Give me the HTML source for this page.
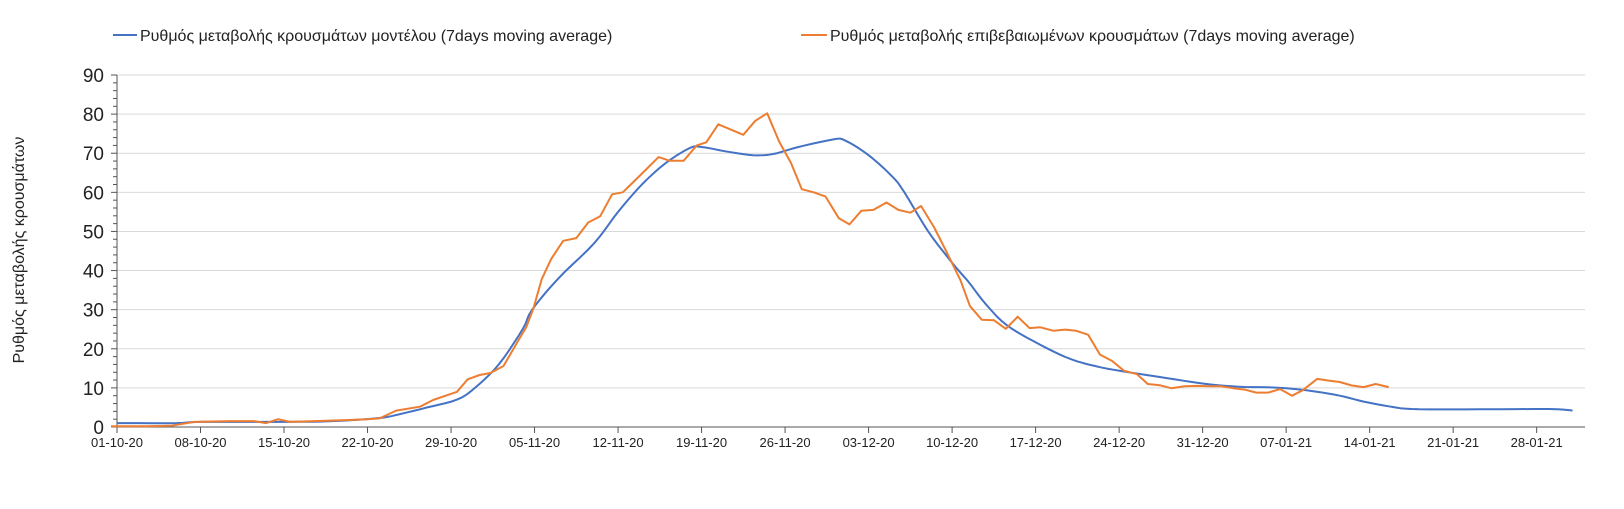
<!DOCTYPE html>
<html><head><meta charset="utf-8"><style>
body{margin:0;background:#fff;}
svg{display:block;font-family:"Liberation Sans","DejaVu Sans",sans-serif;}
</style></head><body>
<svg id="s" width="1624" height="509" xmlns="http://www.w3.org/2000/svg">
<rect width="1624" height="509" fill="#fff"/>
<g id="grid"></g>
<line x1="117" y1="75" x2="117" y2="427" stroke="#555" stroke-width="1"/>
<line x1="117" y1="427" x2="1585" y2="427" stroke="#555" stroke-width="1"/>
<g id="ticks" stroke="#555" stroke-width="1"></g>
<g id="labels" fill="#222"></g>
<text transform="translate(24,250) rotate(-90)" text-anchor="middle" font-size="16" fill="#222">Ρυθμός μεταβολής κρουσμάτων</text>
<line x1="113" y1="35" x2="137" y2="35" stroke="#4472c4" stroke-width="2"/>
<text x="140" y="41" font-size="16" fill="#222">Ρυθμός μεταβολής κρουσμάτων μοντέλου (7days moving average)</text>
<line x1="801" y1="35" x2="827" y2="35" stroke="#ed7d31" stroke-width="2"/>
<text x="830" y="41" font-size="16" fill="#222">Ρυθμός μεταβολής επιβεβαιωμένων κρουσμάτων (7days moving average)</text>
<path id="blue" fill="none" stroke="#4472c4" stroke-width="2" stroke-linejoin="round"/>
<path id="orange" fill="none" stroke="#ed7d31" stroke-width="2" stroke-linejoin="round"/>
</svg>
<script>
const X=d=>117+11.93*d, Y=v=>427-v*3.911;
const ns="http://www.w3.org/2000/svg";
function el(p,t,a,txt){const e=document.createElementNS(ns,t);for(const k in a)e.setAttribute(k,a[k]);if(txt!=null)e.textContent=txt;document.getElementById(p).appendChild(e);}
for(let v=10;v<=90;v+=10)el("grid","line",{x1:117,x2:1585,y1:Y(v),y2:Y(v),stroke:"#d9d9d9","stroke-width":1});
for(let v=0;v<=90;v+=2){const maj=v%10==0;el("ticks","line",{x1:maj?111:113,x2:117,y1:Y(v),y2:Y(v)});}
for(let v=0;v<=90;v+=10)el("labels","text",{x:104,y:Y(v)+7,"text-anchor":"end","font-size":19},v);
const lab=["01-10-20","08-10-20","15-10-20","22-10-20","29-10-20","05-11-20","12-11-20","19-11-20","26-11-20","03-12-20","10-12-20","17-12-20","24-12-20","31-12-20","07-01-21","14-01-21","21-01-21","28-01-21"];
lab.forEach((l,i)=>{const x=X(i*7);el("ticks","line",{x1:x,x2:x,y1:427,y2:433});el("labels","text",{x:x,y:447,"text-anchor":"middle","font-size":13},l);});
const B=[[0,1],[5,1],[7,1.3],[14,1.3],[18,1.5],[22,2.3],[24,3.5],[26,5],[28.5,7],[30,10],[32,16],[34,25],[34.8,30],[37,38],[40,47],[42,55],[44,62],[46,67.5],[48,71.3],[49,71.6],[51,70.5],[53.3,69.5],[55,69.8],[57,71.5],[60,73.5],[61,73.3],[63,69.5],[65,64],[66,60],[68,50],[70,42],[71.4,37],[72.8,31.5],[74.6,26],[77.4,21],[80,17.3],[82.4,15.3],[84.4,14.2],[88,12.5],[91.3,11],[94,10.3],[96.9,10.1],[99.7,9.4],[102.5,8],[104.5,6.5],[106.6,5.3],[108.5,4.6],[113,4.5],[120,4.6],[122,4.2]];
function interp(pts){const o=[];for(let i=0;i<pts.length-1;i++){const[p0,p1,p2,p3]=[pts[Math.max(0,i-1)],pts[i],pts[i+1],pts[Math.min(pts.length-1,i+2)]];for(let t=0;t<1;t+=0.2){const t2=t*t,t3=t2*t;const f=(a,b,c,d)=>0.5*(2*b+(-a+c)*t+(2*a-5*b+4*c-d)*t2+(-a+3*b-3*c+d)*t3);o.push([f(p0[0],p1[0],p2[0],p3[0]),f(p0[1],p1[1],p2[1],p3[1])]);}}o.push(pts[pts.length-1]);return o;}
document.getElementById("blue").setAttribute("d",interp(B).map((p,i)=>(i?"L":"M")+X(p[0]).toFixed(1)+","+Y(p[1]).toFixed(1)).join(""));
const early=[[0,0.2],[3,0.2],[5,0.3],[7,1.3],[10,1.5],[12,1.5],[13,1],[14,2],[15,1.3],[18,1.6],[20,1.8]].map(p=>[p[0]-0.5,p[1]]);
const e2=[[21,2],[22,2.2],[23.4,4.2],[25.4,5.2],[26.5,6.9],[28.5,9],[29.4,12.2],[30.4,13.3],[31.3,13.8],[32.4,15.6],[33.5,21.4],[34.3,25.5],[34.9,30.3],[35.6,37.8],[36.4,43]];
const mid=[[37.4,47.6],[38.5,48.3],[39.5,52.3],[40.5,53.9],[41.5,59.5],[42.4,60],[43.4,63],[44.4,66],[45.4,69],[46.3,68.1],[47.5,68.1],[48.6,72],[49.4,72.8],[50.4,77.4],[51.5,76],[52.5,74.7],[53.5,78.3],[54.5,80.2],[55.5,73],[56.5,67.5],[57.4,60.8],[58.4,60],[59.4,58.9],[60.5,53.4],[61.4,51.8],[62.4,55.3],[63.4,55.5],[64.5,57.4],[65.5,55.5],[66.5,54.8],[67.4,56.5],[68.5,51],[69.5,45]];
const late=[[70.7,37.5],[71.5,30.9],[72.5,27.4],[73.5,27.3],[74.5,25.1],[75.5,28.2],[76.5,25.3],[77.4,25.5],[78.5,24.6],[79.5,24.9],[80.4,24.6],[81.4,23.6],[82.4,18.5],[83.4,16.9],[84.4,14.4],[85.5,13.5],[86.4,11],[87.4,10.7],[88.4,9.9],[89.5,10.4],[90.5,10.5],[91.6,10.4],[92.6,10.4],[93.6,9.9],[94.6,9.5],[95.5,8.8],[96.5,8.8],[97.5,9.7],[98.5,8],[99.4,9.4],[100.6,12.3],[101.5,11.9],[102.5,11.5],[103.5,10.6],[104.5,10.2],[105.5,11],[106.6,10.2]];
const O=early.concat(e2,mid,late);
document.getElementById("orange").setAttribute("d",O.map((p,i)=>(i?"L":"M")+X(p[0]).toFixed(1)+","+Y(p[1]).toFixed(1)).join(""));
</script>
</body></html>
